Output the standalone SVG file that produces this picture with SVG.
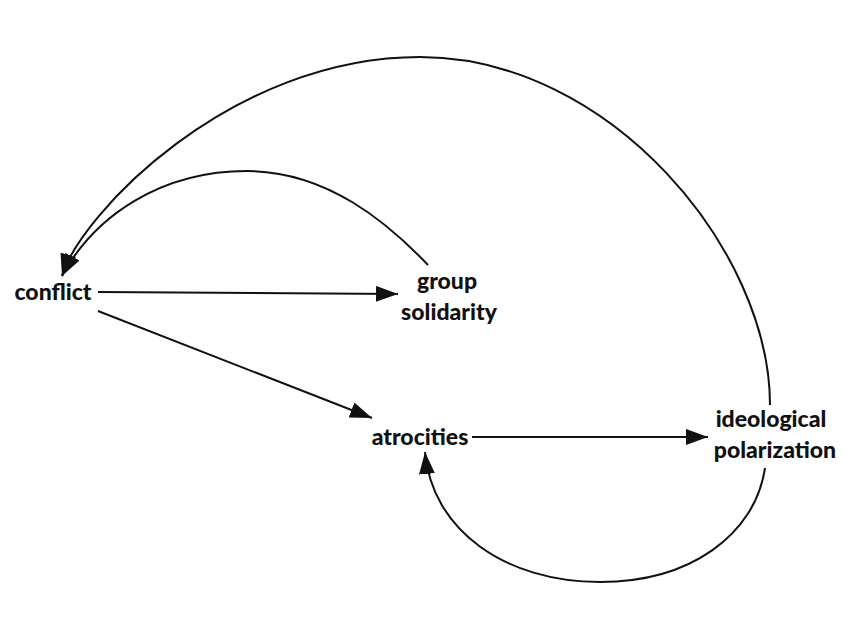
<svg xmlns="http://www.w3.org/2000/svg" width="850" height="631" viewBox="0 0 850 631">
<style>
.lbl{font-family:Lato,"Liberation Sans",sans-serif;font-weight:900;font-size:23px;fill:#111;text-anchor:middle}
.edge{fill:none;stroke:#111;stroke-width:2}
</style>
<defs>
<marker id="ah" markerWidth="24" markerHeight="16" refX="22" refY="8" orient="auto" markerUnits="userSpaceOnUse">
<path d="M0,0 L22,8 L0,16 Z" fill="#111"/>
</marker>
</defs>
<rect width="850" height="631" fill="#fff"/>
<g id="connectors">
<path class="edge" d="M98,292 L398,294" marker-end="url(#ah)"/>
<path class="edge" d="M98,311 L372,418" marker-end="url(#ah)"/>
<path class="edge" d="M472,437 L708,437" marker-end="url(#ah)"/>
<path class="edge" d="M765,468 C755,535 690,582 600,582 C505,582 432,530 425,452" marker-end="url(#ah)"/>
<path class="edge" d="M428,265 C388,223 327,171 247,171 C162,171 95,215 62,276" marker-end="url(#ah)"/>
<path class="edge" d="M770,405 C770,250 610,57 420,57 C230,57 80,215 62,276" marker-end="url(#ah)"/>
</g>
<g id="conflict"><text class="lbl" x="53" y="300">conflict</text></g>
<g id="group-solidarity"><text class="lbl" x="447" y="289">group</text><text class="lbl" x="449" y="320">solidarity</text></g>
<g id="atrocities"><text class="lbl" x="420" y="445">atrocities</text></g>
<g id="ideological-polarization"><text class="lbl" x="771" y="427">ideological</text><text class="lbl" x="775" y="458">polarization</text></g>
</svg>
